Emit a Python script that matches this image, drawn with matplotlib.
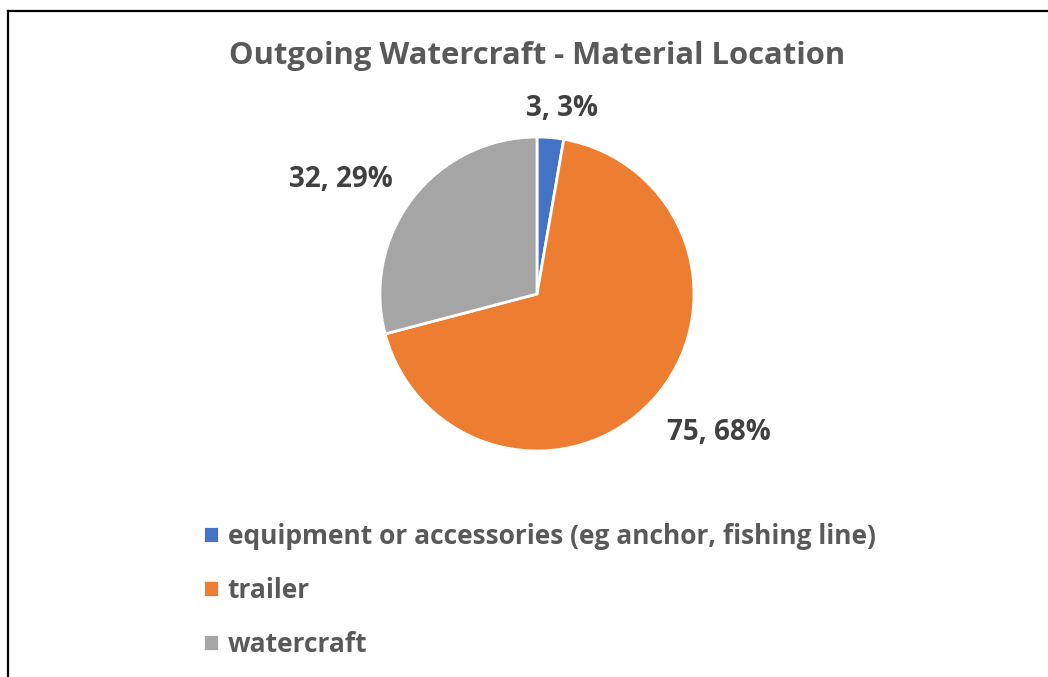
import matplotlib.pyplot as plt
import numpy as np

categories = ['equipment or accessories (eg anchor, fishing line)', 'trailer', 'watercraft']
values = [3, 75, 32]
colors = ['#4472C4', '#ED7D31', '#A5A5A5']
# posicion de las etiquetas: distancia al centro y giro respecto al centro de la porcion
label_dist = [1.195, 1.455, 1.444]
label_turn = [-2.8, 5.3, 7.4]

plt.rcParams['font.family'] = ['Open Sans', 'DejaVu Sans']

fig = plt.figure(figsize=(10.48, 6.77), dpi=100)

# marco del grafico (solo se ven el borde izquierdo y superior)
fig.add_artist(plt.Line2D([8 / 1048, 8 / 1048], [0, 1 - 11 / 677], color='black', lw=1.6))
fig.add_artist(plt.Line2D([8 / 1048, 1], [1 - 11 / 677, 1 - 11 / 677], color='black', lw=1.6))

cx, cy, r = 537, 294, 157
ax = fig.add_axes([(cx - r) / 1048, (677 - cy - r) / 677, 2 * r / 1048, 2 * r / 677])
wedges, _ = ax.pie(values, colors=colors, startangle=90, counterclock=False,
                   radius=1, wedgeprops=dict(edgecolor='white', linewidth=2))
ax.set_xlim(-1, 1)
ax.set_ylim(-1, 1)
ax.set_aspect('equal')

total = sum(values)
for w, v, d, t in zip(wedges, values, label_dist, label_turn):
    ang = np.deg2rad((w.theta1 + w.theta2) / 2 + t)
    ax.text(d * np.cos(ang), d * np.sin(ang), f'{v}, {round(v / total * 100)}%',
            ha='center', va='center', fontsize=20, fontweight='bold', color='#404040',
            clip_on=False)

fig.text(537 / 1048, 1 - 56 / 677, 'Outgoing Watercraft - Material Location',
         ha='center', va='center', fontsize=22.3, fontweight='bold', color='#595959')

fig.legend(wedges, categories, loc='upper left', bbox_to_anchor=(179 / 1048, 1 - 499 / 677),
           frameon=False, labelcolor='#595959', handlelength=0.6,
           handleheight=0.6, handletextpad=0.35, labelspacing=1.03,
           prop=dict(weight='bold', size=19))

fig.savefig('out.png', dpi=100)
